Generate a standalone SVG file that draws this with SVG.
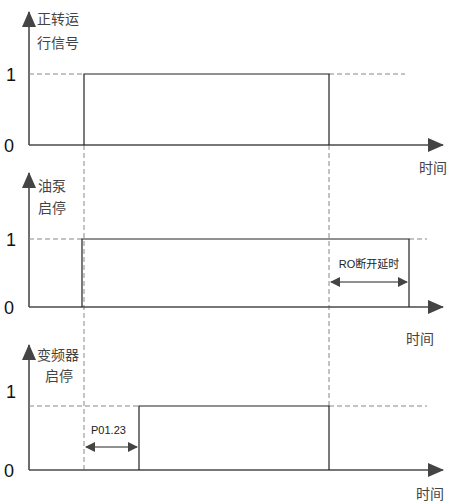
<svg xmlns="http://www.w3.org/2000/svg" width="451" height="501" viewBox="0 0 451 501">
<style>
.ax{stroke:#4a4a4a;stroke-width:1.6;fill:none}
.sig{stroke:#222;stroke-width:1.2;fill:none}
.dsh{stroke:#888;stroke-width:1;stroke-dasharray:5,3;fill:none}
.num{font-family:"Liberation Sans",Arial,sans-serif;font-size:18px;fill:#111}
.cn{font-family:"Liberation Sans","Noto Sans CJK SC",sans-serif;font-size:14px;fill:#444}
.sm{font-family:"Liberation Sans","Noto Sans CJK SC",sans-serif;font-size:11px;fill:#222}
</style>
<defs>
<marker id="ah" markerWidth="10" markerHeight="10" refX="9" refY="5" orient="auto-start-reverse" markerUnits="userSpaceOnUse">
<path d="M0,0 L10,5 L0,10 Z" fill="#444"/>
</marker>
<marker id="big" markerWidth="16" markerHeight="14" refX="15" refY="7" orient="auto" markerUnits="userSpaceOnUse">
<path d="M0,0 L16,7 L0,14 Z" fill="#444"/>
</marker>
</defs>
<g id="connectors">
<line class="dsh" x1="84" y1="145" x2="84" y2="470"/>
<line class="dsh" x1="329" y1="145" x2="329" y2="406"/>
</g>
<g id="panel1">
<line class="ax" x1="29" y1="145" x2="29" y2="12" marker-end="url(#big)"/>
<line class="ax" x1="29" y1="145" x2="443" y2="145" marker-end="url(#big)"/>
<line class="dsh" x1="29" y1="74" x2="84" y2="74"/>
<line class="dsh" x1="329" y1="74" x2="405" y2="74"/>
<polyline class="sig" points="84,145 84,74 329,74 329,145"/>
<text class="cn" x="37" y="24">正转运</text>
<text class="cn" x="37" y="48">行信号</text>
<text class="num" x="6" y="81">1</text>
<text class="num" x="4" y="152">0</text>
<text class="cn" x="419" y="173">时间</text>
</g>
<g id="panel2">
<line class="ax" x1="29" y1="307" x2="29" y2="173" marker-end="url(#big)"/>
<line class="ax" x1="29" y1="307" x2="443" y2="307" marker-end="url(#big)"/>
<line class="dsh" x1="29" y1="239" x2="82" y2="239"/>
<line class="dsh" x1="409" y1="239" x2="427" y2="239"/>
<polyline class="sig" points="82,307 82,239 409,239 409,307"/>
<text class="cn" x="38" y="191">油泵</text>
<text class="cn" x="38" y="213">启停</text>
<text class="num" x="6" y="246">1</text>
<text class="num" x="4" y="314">0</text>
<line class="sig" x1="331" y1="282" x2="407" y2="282" stroke="#444" marker-start="url(#ah)" marker-end="url(#ah)"/>
<text class="sm" x="369" y="268" text-anchor="middle">RO断开延时</text>
<text class="cn" x="406" y="344">时间</text>
</g>
<g id="panel3">
<line class="ax" x1="29" y1="470" x2="29" y2="345" marker-end="url(#big)"/>
<line class="ax" x1="29" y1="470" x2="443" y2="470" marker-end="url(#big)"/>
<line class="dsh" x1="29" y1="406" x2="139" y2="406"/>
<line class="dsh" x1="329" y1="406" x2="427" y2="406"/>
<polyline class="sig" points="139,470 139,406 329,406 329,470"/>
<text class="cn" x="37" y="360">变频器</text>
<text class="cn" x="45" y="381">启停</text>
<text class="num" x="6" y="398">1</text>
<text class="num" x="4" y="477">0</text>
<line class="sig" x1="86" y1="447" x2="137" y2="447" stroke="#444" marker-start="url(#ah)" marker-end="url(#ah)"/>
<text class="sm" x="91" y="434">P01.23</text>
<text class="cn" x="416" y="499">时间</text>
</g>
</svg>
